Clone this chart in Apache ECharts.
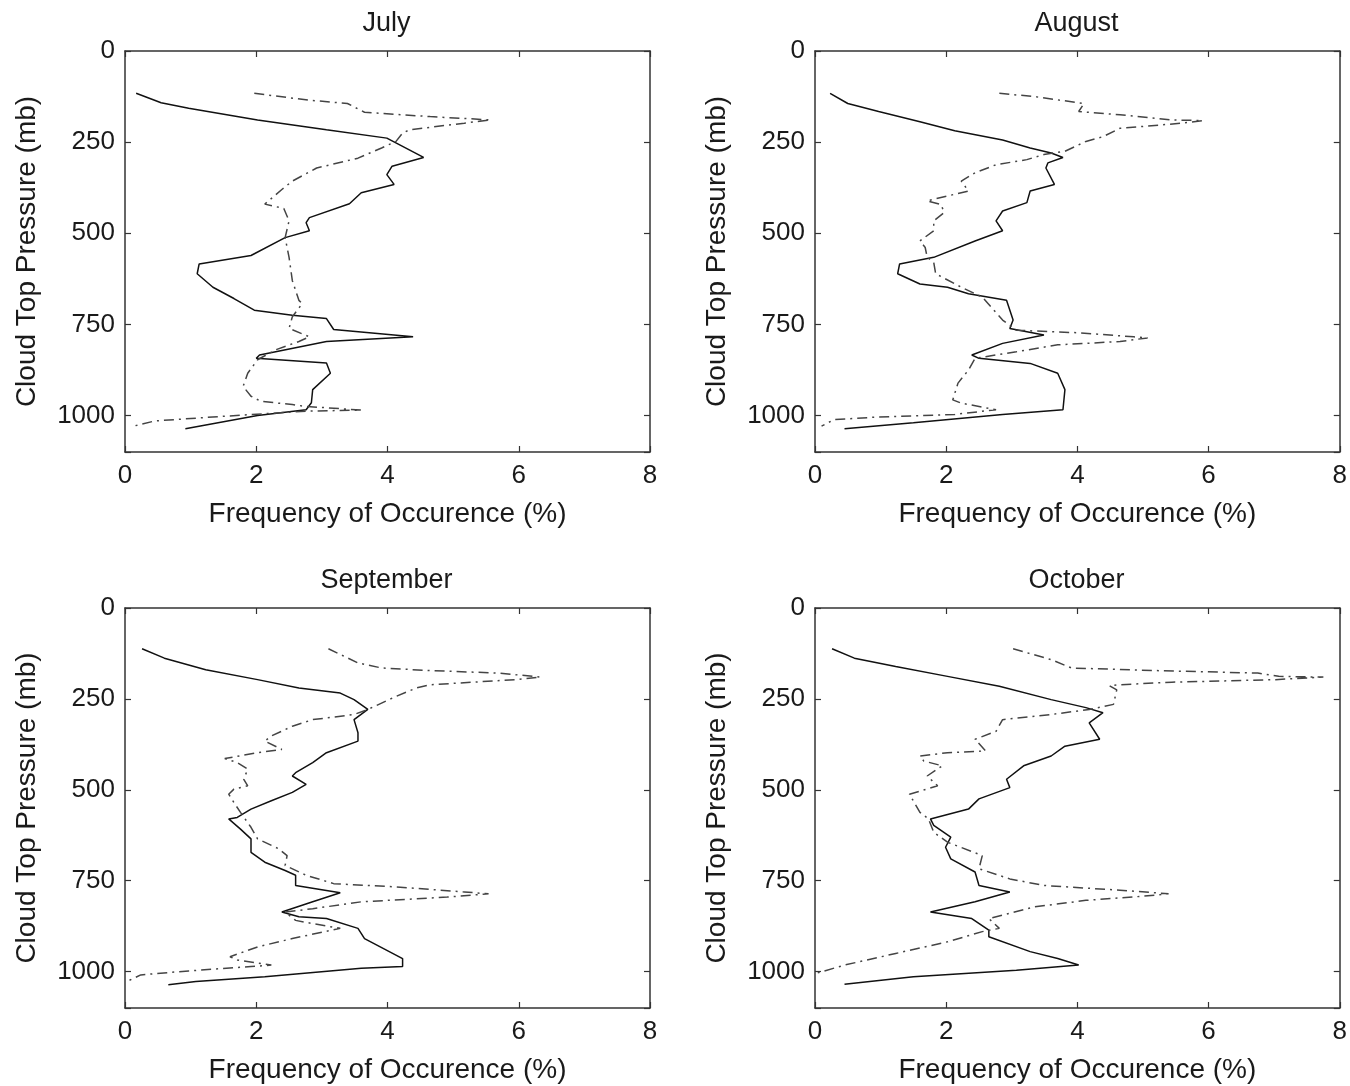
<!DOCTYPE html>
<html>
<head>
<meta charset="utf-8">
<script src="https://cdn.jsdelivr.net/npm/echarts@6/dist/echarts.min.js"></script>
<style>
  html, body { margin: 0; padding: 0; background: #fff; }
  #chart { width: 1350px; height: 1086px; }
</style>
</head>
<body>
<div id="chart"></div>
<script>
// Month titles
const months = ['July', 'August', 'September', 'October'];
// Axis ticks
const xTicks = [0, 2, 4, 6, 8];
const yTicks = [0, 250, 500, 750, 1000];

// July
const julySolidPres = [116,142,157,189,216,239,292,316,339,366,389,419,457,471,493,512,561,584,611,648,679,711,725,734,764,784,797,834,843,856,884,929,965,984,1000,1036];
const julySolidFreq = [0.17,0.55,0.97,2.02,3.07,3.99,4.55,4.07,3.99,4.1,3.6,3.42,2.81,2.76,2.81,2.44,1.92,1.13,1.1,1.34,1.66,1.97,2.55,3.07,3.18,4.39,3.07,2.05,2.0,3.07,3.13,2.86,2.84,2.76,2.02,0.92];
const julyDashPres = [116,135,144,168,180,189,198,216,225,248,266,294,321,357,380,420,432,466,512,566,630,684,693,729,761,784,797,820,847,884,920,947,961,970,975,985,988,1002,1015,1029];
const julyDashFreq = [1.97,2.81,3.39,3.65,4.65,5.57,5.17,4.34,4.23,4.13,3.91,3.55,2.92,2.55,2.39,2.13,2.42,2.5,2.44,2.5,2.55,2.65,2.7,2.55,2.5,2.81,2.65,2.29,2.02,1.87,1.8,1.92,2.07,2.55,2.76,3.6,2.76,1.5,0.45,0.13];

// August
const augSolidPres = [116,144,166,194,219,244,266,280,292,307,321,366,384,416,439,466,493,521,566,584,611,639,648,666,684,738,761,779,802,834,843,857,884,929,984,997,1020,1036];
const augSolidFreq = [0.23,0.5,0.97,1.6,2.13,2.86,3.28,3.6,3.78,3.55,3.52,3.65,3.28,3.23,2.86,2.76,2.86,2.44,1.81,1.29,1.26,1.6,2.02,2.34,2.92,3.02,2.97,3.49,2.86,2.39,2.5,3.28,3.7,3.81,3.78,2.86,1.5,0.45];
const augDashPres = [116,125,144,166,175,189,191,198,212,235,248,275,284,298,312,334,357,384,393,411,421,443,466,493,521,539,566,580,611,648,675,738,766,773,784,787,797,806,825,843,875,911,957,966,984,997,1004,1011,1029];
const augDashFreq = [2.81,3.34,4.1,4.02,4.65,5.44,5.91,5.6,4.65,4.39,4.13,3.81,3.49,3.23,2.76,2.44,2.23,2.34,2.13,1.71,1.92,1.97,1.81,1.81,1.6,1.68,1.71,1.81,1.84,2.23,2.55,2.86,3.07,4.02,4.86,5.07,4.65,3.7,3.07,2.44,2.34,2.18,2.1,2.23,2.76,2.13,0.97,0.29,0.1];

// September
const sepSolidPres = [112,138,170,197,220,234,252,279,307,343,366,398,425,453,462,485,507,530,553,576,580,608,635,672,699,722,735,763,783,808,836,849,854,881,909,964,986,991,1014,1027,1036];
const sepSolidFreq = [0.26,0.6,1.23,2.02,2.65,3.28,3.49,3.7,3.49,3.55,3.55,3.07,2.86,2.6,2.55,2.76,2.55,2.23,1.92,1.71,1.58,1.76,1.92,1.92,2.13,2.44,2.6,2.6,3.28,2.86,2.39,2.65,3.07,3.55,3.65,4.23,4.23,3.6,2.13,1.08,0.66];
const sepDashPres = [112,151,165,172,179,190,197,211,220,243,279,293,307,325,352,366,389,398,414,425,443,471,489,498,512,535,562,603,635,662,681,708,735,758,767,781,786,795,808,827,836,859,868,881,909,932,959,968,982,986,998,1009,1027];
const sepDashFreq = [3.1,3.55,3.91,4.65,5.7,6.33,5.96,4.65,4.44,4.13,3.7,3.49,2.86,2.55,2.23,2.13,2.39,2.02,1.52,1.71,1.87,1.81,1.87,1.66,1.58,1.66,1.76,1.92,2.02,2.34,2.47,2.44,2.76,3.18,4.13,5.17,5.54,4.91,3.6,2.86,2.44,2.6,2.86,3.28,2.55,2.02,1.6,1.71,2.23,1.92,0.97,0.24,0.03];

// October
const octSolidPres = [112,138,161,188,215,252,274,288,316,361,380,407,434,471,494,525,553,580,598,630,658,690,726,763,781,808,836,854,886,904,945,964,982,996,1014,1035];
const octSolidFreq = [0.26,0.6,1.23,2.02,2.81,3.6,4.13,4.39,4.18,4.34,3.81,3.6,3.18,2.92,2.97,2.5,2.34,1.76,1.81,2.07,1.99,2.07,2.44,2.5,2.97,2.44,1.76,2.39,2.65,2.65,3.28,3.7,4.02,3.07,1.5,0.45];
const octDashPres = [112,142,165,172,179,188,190,197,204,211,214,225,265,279,293,307,339,361,393,398,407,421,434,462,489,512,562,580,617,644,681,717,745,763,776,786,793,804,822,854,881,890,918,950,982,1004];
const octDashFreq = [3.02,3.6,3.91,5.17,6.75,7.07,7.75,7.02,5.44,4.65,4.49,4.6,4.55,4.18,3.6,2.86,2.76,2.44,2.6,2.02,1.6,1.66,1.94,1.71,1.87,1.44,1.6,1.73,1.81,2.02,2.55,2.5,2.97,3.49,4.65,5.39,4.97,4.13,3.34,2.65,2.81,2.55,2.02,1.23,0.45,0.03];

const solidData = [
  [julySolidFreq, julySolidPres],
  [augSolidFreq, augSolidPres],
  [sepSolidFreq, sepSolidPres],
  [octSolidFreq, octSolidPres]
];
const dashData = [
  [julyDashFreq, julyDashPres],
  [augDashFreq, augDashPres],
  [sepDashFreq, sepDashPres],
  [octDashFreq, octDashPres]
];

function zip(freq, pres) {
  const out = [];
  for (let i = 0; i < freq.length; i++) {
    out.push([freq[i], pres[i]]);
  }
  return out;
}

const FONT = 'Arial, "Liberation Sans", sans-serif';
const INK = '#1a1a1a';

// Panel boxes
const panels = [
  {left: 125, top: 51, width: 525, height: 401},
  {left: 815, top: 51, width: 525, height: 401},
  {left: 125, top: 608, width: 525, height: 400},
  {left: 815, top: 608, width: 525, height: 400}
];

const option = {
  backgroundColor: '#fff',
  animation: false,
  title: [],
  grid: [],
  xAxis: [],
  yAxis: [],
  series: []
};

const axisLine = {show: true, onZero: false, lineStyle: {color: '#333', width: 1.5}};
const axisTick = {show: true, inside: true, length: 6, lineStyle: {color: '#333', width: 1.2}};

panels.forEach((p, i) => {
  option.grid.push(Object.assign({show: false, containLabel: false}, p));
  // Title
  option.title.push({
    text: months[i],
    left: p.left + p.width / 2 - 6,
    top: p.top - 46,
    textAlign: 'center',
    textStyle: {fontFamily: FONT, fontSize: 27, fontWeight: 'normal', color: INK}
  });
  // Bottom x axis
  option.xAxis.push({
    type: 'value', gridIndex: i, position: 'bottom',
    min: xTicks[0], max: xTicks[xTicks.length - 1], interval: 2,
    name: 'Frequency of Occurence (%)', nameLocation: 'middle', nameGap: 48,
    nameTextStyle: {fontFamily: FONT, fontSize: 28, color: INK},
    axisLine: axisLine, axisTick: axisTick,
    axisLabel: {fontFamily: FONT, fontSize: 26, color: INK, margin: 11},
    splitLine: {show: false}
  });
  // Top x axis (ticks only)
  option.xAxis.push({
    type: 'value', gridIndex: i, position: 'top',
    min: xTicks[0], max: xTicks[xTicks.length - 1], interval: 2,
    axisLine: axisLine, axisTick: axisTick,
    axisLabel: {show: false}, splitLine: {show: false}
  });
  // Left y axis
  option.yAxis.push({
    type: 'value', gridIndex: i, position: 'left', inverse: true,
    min: 0, max: 1100, interval: 250,
    name: 'Cloud Top Pressure (mb)', nameLocation: 'middle', nameGap: 84,
    nameTextStyle: {fontFamily: FONT, fontSize: 28, color: INK},
    axisLine: axisLine, axisTick: axisTick,
    axisLabel: {
      fontFamily: FONT, fontSize: 26, color: INK, margin: 10,
      formatter: v => (yTicks.indexOf(v) >= 0 ? String(v) : '')
    },
    splitLine: {show: false}
  });
  // Right y axis (ticks only)
  option.yAxis.push({
    type: 'value', gridIndex: i, position: 'right', inverse: true,
    min: 0, max: 1100, interval: 250,
    axisLine: axisLine, axisTick: axisTick,
    axisLabel: {show: false}, splitLine: {show: false}
  });

  option.series.push({
    type: 'line',
    xAxisIndex: i * 2, yAxisIndex: i * 2,
    data: zip(solidData[i][0], solidData[i][1]),
    showSymbol: false, symbol: 'none',
    lineStyle: {color: '#111', width: 1.5, type: 'solid'}
  });
  option.series.push({
    type: 'line',
    xAxisIndex: i * 2, yAxisIndex: i * 2,
    data: zip(dashData[i][0], dashData[i][1]),
    showSymbol: false, symbol: 'none',
    lineStyle: {color: '#444', width: 1.5, type: [10, 5, 2, 5]}
  });
});

const chart = echarts.init(document.getElementById('chart'), null, {renderer: 'canvas'});
chart.setOption(option);
</script>
</body>
</html>
